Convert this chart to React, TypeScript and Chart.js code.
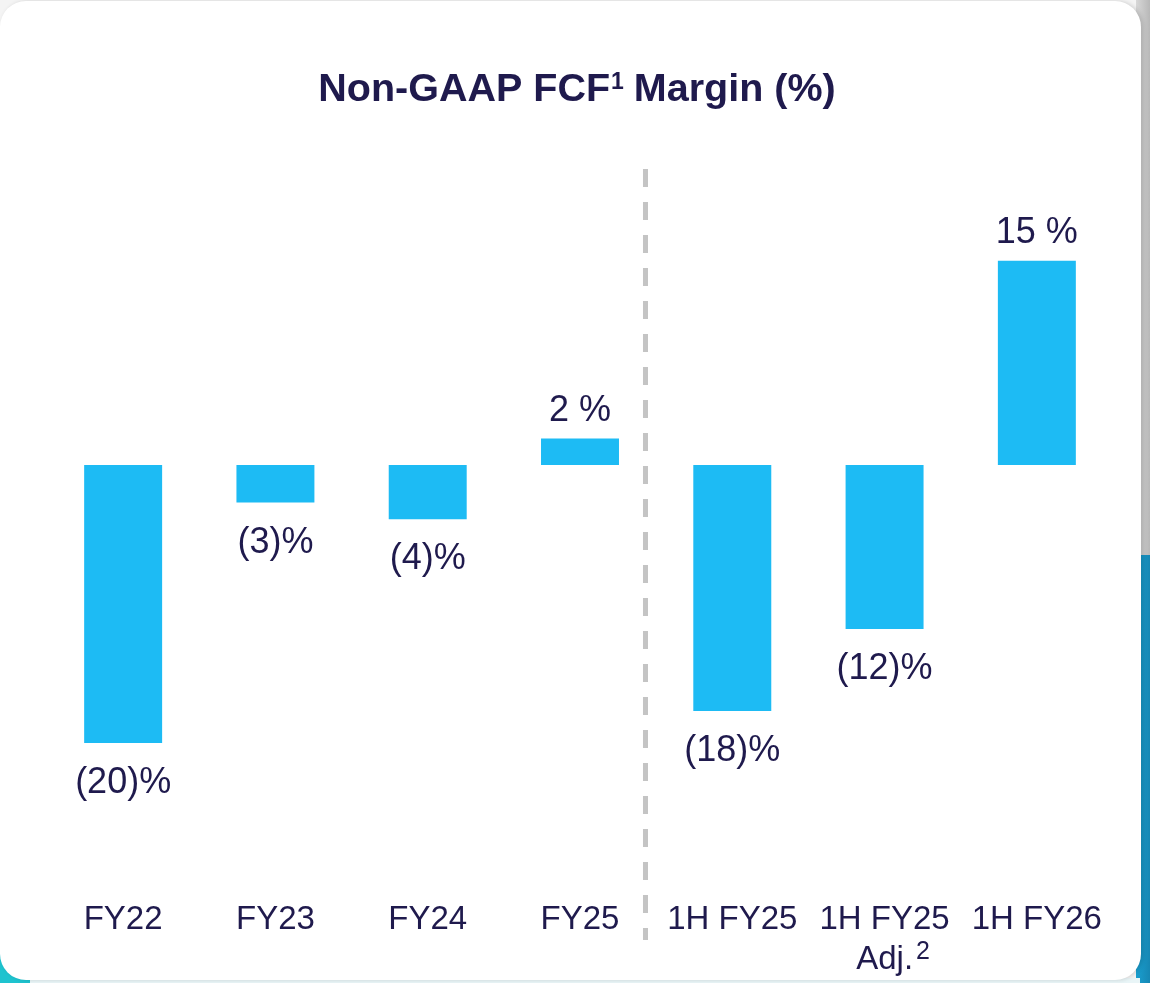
import React, { useEffect, useRef } from "react";
import { Chart, registerables } from "chart.js";
Chart.register(...registerables);

const categories = ["FY22", "FY23", "FY24", "FY25", "1H FY25", "1H FY25", "1H FY26"];
const subLabels = ["", "", "", "", "", "Adj.", ""];
const subSup = ["", "", "", "", "", "2", ""];
const values = [-20, -2.7, -3.9, 1.9, -17.7, -11.8, 14.7];
const valueLabels = ["(20)%", "(3)%", "(4)%", "2 %", "(18)%", "(12)%", "15 %"];
const titleMain = "Non-GAAP FCF";
const titleSup = "1";
const titleRest = " Margin (%)";
const dividerAt = 3.43;

const NAVY = "#1f1a4d";
const BAR = "#1dbbf4";
const FONT = '"Liberation Sans", Arial, sans-serif';

const labelPlugin = {
  id: "customLabels",
  afterDatasetsDraw(chart: any) {
    const ctx = chart.ctx;
    const xs = chart.scales.x;
    const ys = chart.scales.y;
    ctx.save();
    // title
    ctx.fillStyle = NAVY;
    ctx.textBaseline = "alphabetic";
    ctx.font = `bold 39.5px ${FONT}`;
    const w1 = ctx.measureText(titleMain).width;
    const w3 = ctx.measureText(titleRest).width;
    ctx.font = `bold 23px ${FONT}`;
    const w2 = ctx.measureText(titleSup).width;
    const total = w1 + w2 + w3;
    let tx = 577 - total / 2;
    const tb = 101;
    ctx.textAlign = "left";
    ctx.font = `bold 39.5px ${FONT}`;
    ctx.fillText(titleMain, tx, tb);
    tx += w1;
    ctx.font = `bold 23px ${FONT}`;
    ctx.fillText(titleSup, tx + 1, tb - 12);
    tx += w2;
    ctx.font = `bold 39.5px ${FONT}`;
    ctx.fillText(titleRest, tx, tb);

    // divider
    const dx = xs.getPixelForValue(dividerAt);
    ctx.strokeStyle = "#c4c4c4";
    ctx.lineWidth = 5;
    ctx.setLineDash([18, 15]);
    ctx.beginPath();
    ctx.moveTo(dx, 169);
    ctx.lineTo(dx, 940);
    ctx.stroke();
    ctx.setLineDash([]);

    // value labels
    ctx.fillStyle = NAVY;
    ctx.textAlign = "center";
    ctx.font = `36px ${FONT}`;
    values.forEach((v, i) => {
      const x = xs.getPixelForValue(i);
      const y = ys.getPixelForValue(v);
      if (v < 0) ctx.fillText(valueLabels[i], x, y + 50);
      else ctx.fillText(valueLabels[i], x, y - 18);
    });

    // category labels
    categories.forEach((c, i) => {
      const x = xs.getPixelForValue(i);
      ctx.textAlign = "center";
      ctx.font = `33px ${FONT}`;
      ctx.fillText(c, x, 929);
      if (subLabels[i]) {
        const sw = ctx.measureText(subLabels[i]).width;
        ctx.font = `25px ${FONT}`;
        const ssw = ctx.measureText(subSup[i]).width;
        const start = x - (sw + ssw) / 2 + 7;
        ctx.textAlign = "left";
        ctx.font = `33px ${FONT}`;
        ctx.fillText(subLabels[i], start, 969);
        ctx.font = `25px ${FONT}`;
        ctx.fillText(subSup[i], start + sw + 3, 959);
      }
    });
    ctx.restore();
  },
};

export default function App() {
  const ref = useRef<HTMLCanvasElement>(null);
  useEffect(() => {
    if (!ref.current) return;
    const chart = new Chart(ref.current, {
      type: "bar",
      data: {
        labels: categories,
        datasets: [
          {
            data: values,
            backgroundColor: BAR,
            borderWidth: 0,
            barPercentage: 0.512,
            categoryPercentage: 1,
          },
        ],
      },
      options: {
        animation: false,
        responsive: false,
        devicePixelRatio: 1,
        layout: { padding: { left: 47, right: 37, top: 187, bottom: 170.5 } },
        plugins: { legend: { display: false }, tooltip: { enabled: false }, title: { display: false } },
        scales: {
          x: { display: false },
          y: { display: false, min: -25, max: 20 },
        },
      },
      plugins: [labelPlugin],
    });
    return () => chart.destroy();
  }, []);

  return (
    <div style={{ position: "fixed", left: 0, top: 0, width: 1150, height: 983, background: "#f4f4f4", overflow: "hidden" }}>
      <div style={{ position: "absolute", left: 1136, top: 0, width: 14, height: 555, background: "linear-gradient(to right, #d8d8d8, #b8b8b8)" }} />
      <div style={{ position: "absolute", left: 1136, top: 555, width: 14, height: 428, background: "linear-gradient(to right, #1a9fcf, #1687b4)" }} />
      <div style={{ position: "absolute", left: 0, top: 940, width: 30, height: 43, background: "#1ec3cf" }} />
      <div style={{ position: "absolute", left: 30, top: 978, width: 1110, height: 5, background: "#e9f5f7" }} />
      <div style={{ position: "absolute", left: 0, top: 1, width: 1141, height: 979, background: "#ffffff", borderRadius: 26, boxShadow: "2px 0 4px rgba(0,0,0,0.15)" }} />
      <canvas ref={ref} width={1150} height={983} style={{ position: "absolute", left: 0, top: 0, width: 1150, height: 983 }} />
    </div>
  );
}
